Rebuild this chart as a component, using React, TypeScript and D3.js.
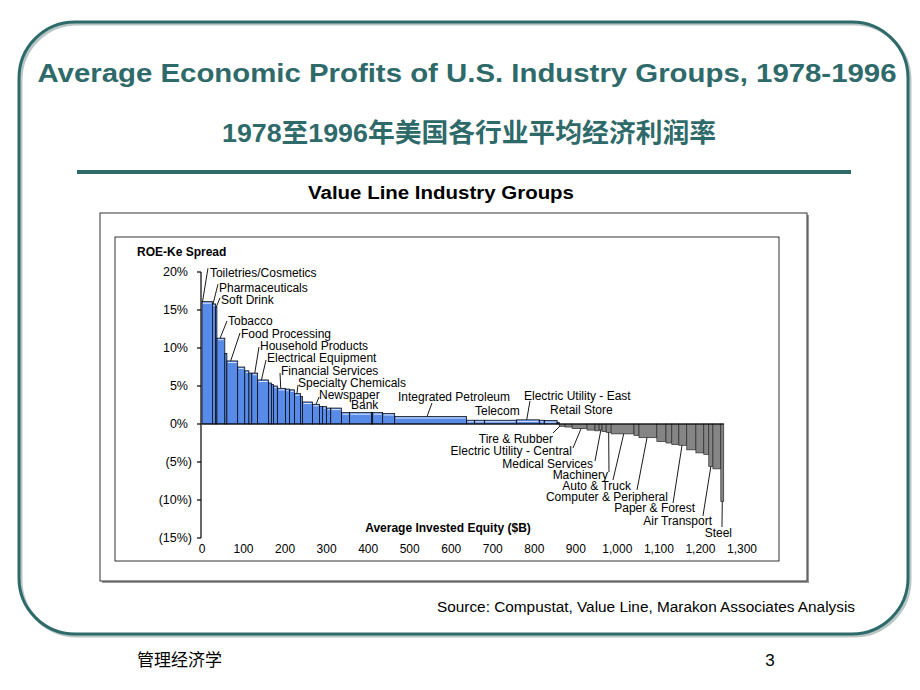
import React from 'react';
import * as d3 from 'd3';

// ---- Data ----
// Width of each industry bar = average invested equity ($B); height = ROE - Ke spread (%)
const barEquity = [
  25, 8, 3, 19, 5, 26, 17, 10, 7, 14,
  26, 7, 5, 10, 19, 10, 12, 14, 5,
  24, 17, 7, 10, 10, 26, 19, 53, 3, 24, 29,
  173, 19, 24, 77, 55, 12, 31, 5,
  14, 17, 36, 19, 10, 7, 10, 12, 55, 12,
  43, 22, 14, 17, 19, 22, 19, 12, 10, 19, 7,
];
const barSpread = [
  16.1, 15.8, 15.4, 11.3, 9.3, 8.3, 7.5, 7.0, 6.7, 6.7,
  5.8, 5.4, 5.2, 5.0, 4.7, 4.6, 4.5, 4.0, 3.6,
  2.9, 2.6, 2.3, 2.3, 2.1, 2.1, 1.5, 1.5, 1.5, 1.5, 1.4,
  1.0, 0.5, 0.5, 0.5, 0.55, 0.5, 0.45, 0.2,
  -0.3, -0.4, -0.6, -0.8, -0.9, -0.8, -1.0, -1.1, -1.3, -1.5,
  -1.8, -2.3, -2.5, -2.7, -2.8, -3.4, -3.8, -4.0, -5.6, -5.9, -10.2,
];

const yTicks = [20, 15, 10, 5, 0, -5, -10, -15];
const yTickLabels = ['20%', '15%', '10%', '5%', '0%', '(5%)', '(10%)', '(15%)'];
const xTicks = [0, 100, 200, 300, 400, 500, 600, 700, 800, 900, 1000, 1100, 1200, 1300];
const xTickLabels = ['0', '100', '200', '300', '400', '500', '600', '700', '800', '900', '1,000', '1,100', '1,200', '1,300'];

// Industry labels: text, bar they point to
const labelNames = [
  'Toiletries/Cosmetics', 'Pharmaceuticals', 'Soft Drink', 'Tobacco', 'Food Processing',
  'Household Products', 'Electrical Equipment', 'Financial Services', 'Specialty Chemicals',
  'Newspaper', 'Bank', 'Integrated Petroleum', 'Telecom', 'Electric Utility - East', 'Retail Store',
  'Tire & Rubber', 'Electric Utility - Central', 'Medical Services', 'Machinery', 'Auto & Truck',
  'Computer & Peripheral', 'Paper & Forest', 'Air Transport', 'Steel',
];
const labelBar = [0, 1, 2, 3, 5, 9, 10, 14, 17, 20, -1, 30, -1, 34, -1, 38, 40, 43, 45, 46, 48, 52, 56, 58];
const labelBarFrac = [0.05, 0.2, 0.5, 0.4, 0.35, 0.5, 0.35, 0.4, 0.4, 0.5, 0, 0.45, 0, 0.45, 0, 0.1, 0.6, 0.6, 0.5, 0.55, 0.45, 0.4, 0.5, 0.5];
// text anchor point in data units ($B, %)
const labelX = [19, 41, 45.7, 62.6, 93.9, 139.6, 156.5, 190.2, 231.1, 281.7, 358.7, 471.8, 657.2, 775.2, 837.8,
  845, 890.7, 941.3, 977.4, 1032.7, 1121.8, 1186.8, 1227.8, 1275.9];
const labelY = [19.87, 17.9, 16.3, 13.55, 11.84, 10.26, 8.68, 6.97, 5.39, 3.82, 2.5, 3.55, 1.71, 3.68, 1.84,
  -1.97, -3.55, -5.26, -6.71, -8.16, -9.61, -11.05, -12.76, -14.34];
// leader start in data units
const leadX = [14.4, 38.5, 43.3, 60.2, 91.5, 137.2, 154.1, 187.8, 231.1, 281.7, 0, 553.7, 0, 789.6, 0,
  845, 893.1, 946.1, 979.8, 989.4, 1047.2, 1134, 1206, 1251.8];
const leadY = [20.5, 18.4, 16.6, 13.55, 11.97, 10.13, 8.42, 6.71, 5.13, 3.55, 0, 2.76, 0, 3.03, 0,
  -1.18, -3.16, -4.87, -6.32, -7.37, -8.68, -10.39, -12.1, -13.55];

const TEAL = '#2f6a6a';

export default function App() {
  const x = d3.scaleLinear().domain([0, 1300]).range([202, 742]);
  const y = d3.scaleLinear().domain([-15, 20]).range([538, 272]);
  const ends = Array.from(d3.cumsum(barEquity));
  const starts = ends.map((e, i) => e - barEquity[i]);
  const total = ends[ends.length - 1];
  const font = "'Liberation Sans', Arial, sans-serif";

  return (
    <svg width={920} height={690} style={{ position: 'absolute', left: 0, top: 0, background: '#fff' }}
      fontFamily={font}>
      {/* slide frame */}
      <rect x={21} y={24} width={889} height={612} rx={56} ry={56} fill="none" stroke="#b8c6c6" strokeWidth={3} />
      <rect x={19} y={22} width={889} height={612} rx={56} ry={56} fill="none" stroke={TEAL} strokeWidth={3} />

      <text x={467} y={73} dy="0.35em" textAnchor="middle" fontSize={26} fontWeight="bold" fill={TEAL}
        textLength={859} lengthAdjust="spacingAndGlyphs">
        Average Economic Profits of U.S. Industry Groups, 1978-1996
      </text>
      <text x={469} y={133} dy="0.35em" textAnchor="middle" fontSize={26} fontWeight="bold" fill={TEAL}
        fontFamily="'Liberation Sans', 'Noto Sans CJK SC', sans-serif"
        textLength={494} lengthAdjust="spacingAndGlyphs">
        1978至1996年美国各行业平均经济利润率
      </text>
      <line x1={77} x2={851} y1={172} y2={172} stroke={TEAL} strokeWidth={4} />

      <text x={441} y={193} dy="0.35em" textAnchor="middle" fontSize={18} fontWeight="bold" fill="#000"
        textLength={266} lengthAdjust="spacingAndGlyphs">
        Value Line Industry Groups
      </text>

      {/* chart box with shadow */}
      <rect x={102} y={215} width={707} height={368} fill="#999" />
      <rect x={100} y={213} width={707} height={368} fill="#fff" stroke="#333" strokeWidth={1} />
      <rect x={115} y={237} width={664} height={324} fill="none" stroke="#000" strokeWidth={0.8} />

      <text x={137} y={252} dy="0.35em" fontSize={12} fontWeight="bold">ROE-Ke Spread</text>

      {/* bars */}
      {barSpread.map((v, i) => {
        const x0 = x(starts[i]);
        const x1 = x(ends[i]);
        const w = Math.max(x1 - x0, 0.6);
        const top = Math.min(y(v), y(0));
        const h = Math.abs(y(v) - y(0));
        const pos = v >= 0;
        return (
          <g key={i}>
            <rect x={x0} y={top} width={w} height={h} fill={pos ? '#588be8' : '#858585'}
              stroke={pos ? '#000' : '#2a2a2a'} strokeWidth={0.7} />
            {pos && w > 3 && h > 3 ? (
              <line x1={x0 + 1} x2={x0 + w - 1} y1={top + 1.6} y2={top + 1.6} stroke="#dbe5f8" strokeWidth={1} />
            ) : null}
          </g>
        );
      })}
      <line x1={x(0)} x2={x(total)} y1={y(0)} y2={y(0)} stroke="#000" strokeWidth={1} />

      {/* y axis */}
      <line x1={x(0) - 1} x2={x(0) - 1} y1={y(20)} y2={y(-15)} stroke="#000" strokeWidth={1.2} />
      {yTicks.map((t, i) => (
        <g key={t}>
          <line x1={x(0) - 5} x2={x(0) - 1} y1={y(t)} y2={y(t)} stroke="#000" strokeWidth={1.2} />
          <text x={t < 0 ? 192 : 188} y={y(t)} dy="0.35em" textAnchor="end" fontSize={12.5}>{yTickLabels[i]}</text>
        </g>
      ))}

      {/* x tick labels */}
      {xTicks.map((t, i) => (
        <text key={t} x={x(t)} y={549} dy="0.35em" textAnchor="middle" fontSize={12}>{xTickLabels[i]}</text>
      ))}
      <text x={448} y={528} dy="0.35em" textAnchor="middle" fontSize={12} fontWeight="bold">Average Invested Equity ($B)</text>

      {/* industry labels */}
      {labelNames.map((name, i) => {
        const neg = i >= 15;
        const b = labelBar[i];
        let leader = null;
        if (b >= 0) {
          const bx = x(starts[b] + barEquity[b] * labelBarFrac[i]);
          const by = y(barSpread[b]);
          leader = <line x1={x(leadX[i])} y1={y(leadY[i])} x2={bx} y2={by} stroke="#000" strokeWidth={0.9} />;
        }
        return (
          <g key={name}>
            {leader}
            <text x={x(labelX[i])} y={y(labelY[i])} dy="0.35em" textAnchor={neg ? 'end' : 'start'} fontSize={12}>{name}</text>
          </g>
        );
      })}

      <text x={855} y={607} dy="0.35em" textAnchor="end" fontSize={14} textLength={418} lengthAdjust="spacingAndGlyphs">
        Source: Compustat, Value Line, Marakon Associates Analysis
      </text>

      <text x={137} y={660} dy="0.35em" fontSize={17} fontFamily="'Noto Sans CJK SC', sans-serif">管理经济学</text>
      <text x={770} y={660} dy="0.35em" textAnchor="middle" fontSize={17}>3</text>
    </svg>
  );
}
